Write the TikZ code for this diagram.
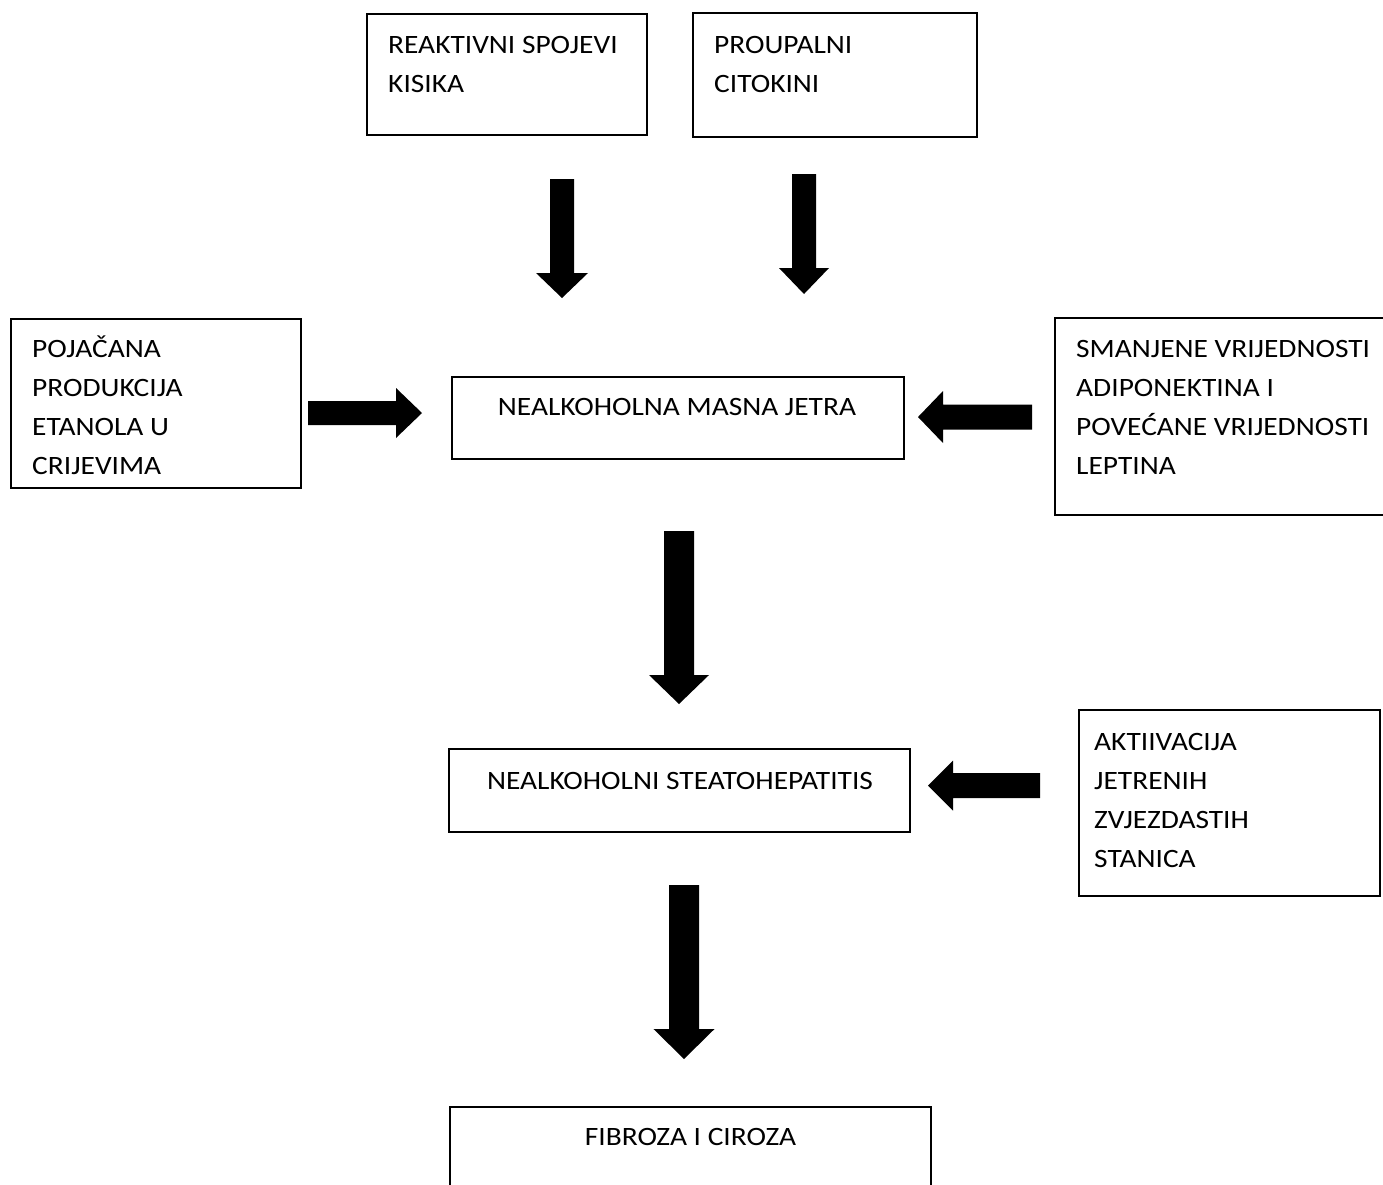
\documentclass[tikz,border=0pt]{standalone}
\usepackage{fontspec}
\setmainfont{Carlito}[FakeStretch=1.11]
\newcommand\boxlines[1]{\begin{tabular}[t]{@{}l@{}}#1\end{tabular}}
\tikzset{
  box/.style={draw=black, line width=1.6pt, inner sep=0pt, fill=none},
  txt/.style={inner sep=0pt, font=\fontsize{26.5}{39}\selectfont},
  pics/blockarrow/.style n args={4}{code={
    \fill[black] (0,#2) -- ({#1-#4},#2) -- ({#1-#4},#3) -- (#1,0)
      -- ({#1-#4},-#3) -- ({#1-#4},-#2) -- (0,-#2) -- cycle;}}
}
\begin{document}
\begin{tikzpicture}[x=1pt,y=-1pt]
\useasboundingbox (0,0) rectangle (1383,1184);
\fill[white] (0,0) rectangle (1383,1184);
\clip (0,0) rectangle (1383,1184);
% boxes
\node[box, minimum width=280pt, minimum height=121pt] (b1) at (507,74.5) {};
\node[box, minimum width=284pt, minimum height=124pt] (b2) at (835,75) {};
\node[box, minimum width=290pt, minimum height=169pt] (b3) at (156,403.5) {};
\node[box, minimum width=452pt, minimum height=82pt] (b4) at (678,418) {};
\node[box, minimum width=345pt, minimum height=197pt] (b5) at (1227.5,416.5) {};
\node[box, minimum width=461pt, minimum height=83pt] (b6) at (679.5,790.5) {};
\node[box, minimum width=301pt, minimum height=186pt] (b7) at (1229.5,803) {};
\node[box, minimum width=481pt, minimum height=93pt] (b8) at (690.5,1153.5) {};
% texts
\node[txt, anchor=base west] (t1) at (388,53) {\boxlines{REAKTIVNI SPOJEVI\\KISIKA}};
\node[txt, anchor=base west] (t2) at (714,53) {\boxlines{PROUPALNI\\CITOKINI}};
\node[txt, anchor=base west] (t3) at (32,357) {\boxlines{POJAČANA\\PRODUKCIJA\\ETANOLA U\\CRIJEVIMA}};
\node[txt, anchor=base] (t4) at (677,415) {NEALKOHOLNA MASNA JETRA};
\node[txt, anchor=base west] (t5) at (1076,357) {\boxlines{SMANJENE VRIJEDNOSTI\\ADIPONEKTINA I\\POVEĆANE VRIJEDNOSTI\\LEPTINA}};
\node[txt, anchor=base] (t6) at (680,789) {NEALKOHOLNI STEATOHEPATITIS};
\node[txt, anchor=base west] (t7) at (1094,750) {\boxlines{AKTIIVACIJA\\JETRENIH\\ZVJEZDASTIH\\STANICA}};
\node[txt, anchor=base] (t8) at (690.5,1145) {FIBROZA I CIROZA};
% arrow tails
\coordinate (a1) at (562,179);
\coordinate (a2) at (804,174);
\coordinate (a3) at (308,413);
\coordinate (a4) at (1032,417);
\coordinate (a5) at (679,531);
\coordinate (a6) at (1040,785.5);
\coordinate (a7) at (684,885);
\pic[rotate=-90] at (a1) {blockarrow={119}{12}{26}{25}};
\pic[rotate=-90] at (a2) {blockarrow={120}{12}{25}{26}};
\pic at (a3) {blockarrow={114}{12}{25}{26}};
\pic[rotate=180] at (a4) {blockarrow={114}{12.5}{26}{25}};
\pic[rotate=-90] at (a5) {blockarrow={173}{15}{30}{29}};
\pic[rotate=180] at (a6) {blockarrow={112}{12.5}{25}{25}};
\pic[rotate=-90] at (a7) {blockarrow={174}{15}{30.5}{30}};
\end{tikzpicture}
\end{document}
